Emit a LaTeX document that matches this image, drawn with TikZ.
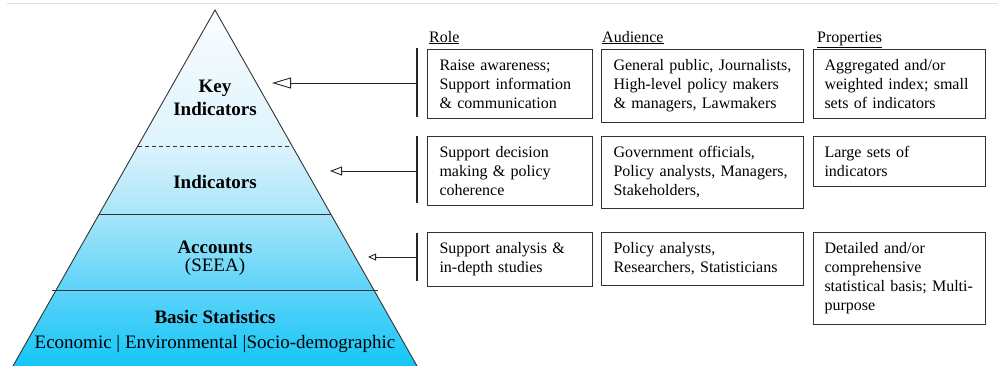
\documentclass[tikz,border=0pt]{standalone}
\usepackage{fontspec}
\setmainfont{Liberation Serif}
\usetikzlibrary{arrows.meta, calc, positioning}

\definecolor{pyrbottom}{RGB}{20,198,248}
\definecolor{pyrlow}{RGB}{91,211,248}
\definecolor{pyrmid}{RGB}{168,230,250}
\definecolor{pyrhigh}{RGB}{221,243,252}
\definecolor{pyrtop}{RGB}{250,253,255}
\pgfdeclareverticalshading{pyrshade}{100bp}{color(0bp)=(pyrbottom); color(25bp)=(pyrbottom); color(35.5bp)=(pyrlow); color(46.5bp)=(pyrmid); color(56bp)=(pyrhigh); color(75bp)=(pyrtop); color(100bp)=(pyrtop)}

\begin{document}
\begin{tikzpicture}[x=1pt, y=-1pt,
		tier/.style={align=center, font=\fontsize{19}{23}\selectfont\bfseries},
		infobox/.style={draw=black!80, line width=1pt, anchor=north west, align=left,
			inner xsep=12pt, inner ysep=10pt, font=\fontsize{16}{19}\selectfont},
		rolebox/.style={infobox, text width=141pt},
		audbox/.style={infobox, text width=178pt},
		propbox/.style={infobox, inner xsep=11pt, text width=150pt},
		colhead/.style={anchor=base west, inner sep=0pt, font=\fontsize{16}{19}\selectfont},
		bracket/.style={line width=1.2pt, draw=black!85},
		pointer/.style={line width=0.9pt, draw=black!85}
	]
	\useasboundingbox (0,0) rectangle (998,365);
	\draw[gray!25, line width=1pt] (7,3) -- (998,3);

	%% pyramid
	\coordinate (apex) at (215,10);
	\coordinate (baseL) at (13,366);
	\coordinate (baseR) at (417,366);
	\shade[shading=pyrshade] (apex) -- (baseL) -- (baseR) -- cycle;
	\draw[line width=0.9pt, black!80] (baseL) -- (apex) -- (baseR);
	\draw[line width=0.8pt, black!80, dash pattern=on 4pt off 3pt]
		($(apex)!0.382!(baseL)$) -- ($(apex)!0.382!(baseR)$);
	\draw[line width=0.9pt, black!80] ($(apex)!0.573!(baseL)$) -- ($(apex)!0.573!(baseR)$);
	\draw[line width=0.9pt, black!80] ($(apex)!0.789!(baseL)+(-4,0)$) -- ($(apex)!0.789!(baseR)+(4,0)$);

	\node[tier] (keyind) at (215,98) {Key\\Indicators};
	\node[tier] (ind) at (215,182) {Indicators};
	\node[tier] (acc) at (215,258) {Accounts\\[-5pt]{\mdseries (SEEA)}};
	\node[tier] (basic) at (215,331) {Basic Statistics\\[2pt]{\mdseries Economic | Environmental |Socio-demographic}};

	%% headers
	\node[colhead] (rolehead) at (429,42) {\underline{Role}};
	\node[colhead] (audhead) at (602,42) {\underline{Audience}};
	\node[colhead] (prophead) at (817,42) {\underline{Properties}};

	%% boxes
	\node[rolebox] (role1) at (427,49) {Raise awareness;\\Support information\\\& communication};
	\node[audbox] (aud1) at (601,49) {General public, Journalists,\\High-level policy makers\\\& managers, Lawmakers};
	\node[propbox] (prop1) at (813,49) {Aggregated and/or\\weighted index; small\\sets of indicators};

	\node[rolebox] (role2) at (427,136) {Support decision\\making \& policy\\coherence};
	\node[audbox] (aud2) at (601,136) {Government officials,\\Policy analysts, Managers,\\Stakeholders,};
	\node[propbox] (prop2) at (813,136) {Large sets of\\indicators};

	\node[rolebox] (role3) at (427,232) {Support analysis \&\\in-depth studies};
	\node[audbox] (aud3) at (601,232) {Policy analysts,\\Researchers, Statisticians};
	\node[propbox] (prop3) at (813,232) {Detailed and/or\\comprehensive\\\mbox{statistical basis; Multi-}\\purpose};

	%% pointers
	\coordinate (b1top) at (417,48);
	\coordinate (b1bot) at (417,117);
	\coordinate (b1mid) at (417,83);
	\coordinate (tip1) at (272,83);
	\coordinate (b2top) at (417,136);
	\coordinate (b2bot) at (417,203);
	\coordinate (b2mid) at (417,171);
	\coordinate (tip2) at (330,171);
	\coordinate (b3top) at (417,233);
	\coordinate (b3bot) at (417,281);
	\coordinate (b3mid) at (417,257);
	\coordinate (tip3) at (368,257);

	\draw[bracket] (b1top) -- (b1bot);
	\draw[bracket] (b2top) -- (b2bot);
	\draw[bracket] (b3top) -- (b3bot);
	\draw[pointer, -{Triangle[open, length=19pt, width=11pt]}] (b1mid) -- (tip1);
	\draw[pointer, -{Triangle[open, length=12pt, width=9pt]}] (b2mid) -- (tip2);
	\draw[pointer, -{Triangle[open, length=8pt, width=7pt]}] (b3mid) -- (tip3);
\end{tikzpicture}
\end{document}
